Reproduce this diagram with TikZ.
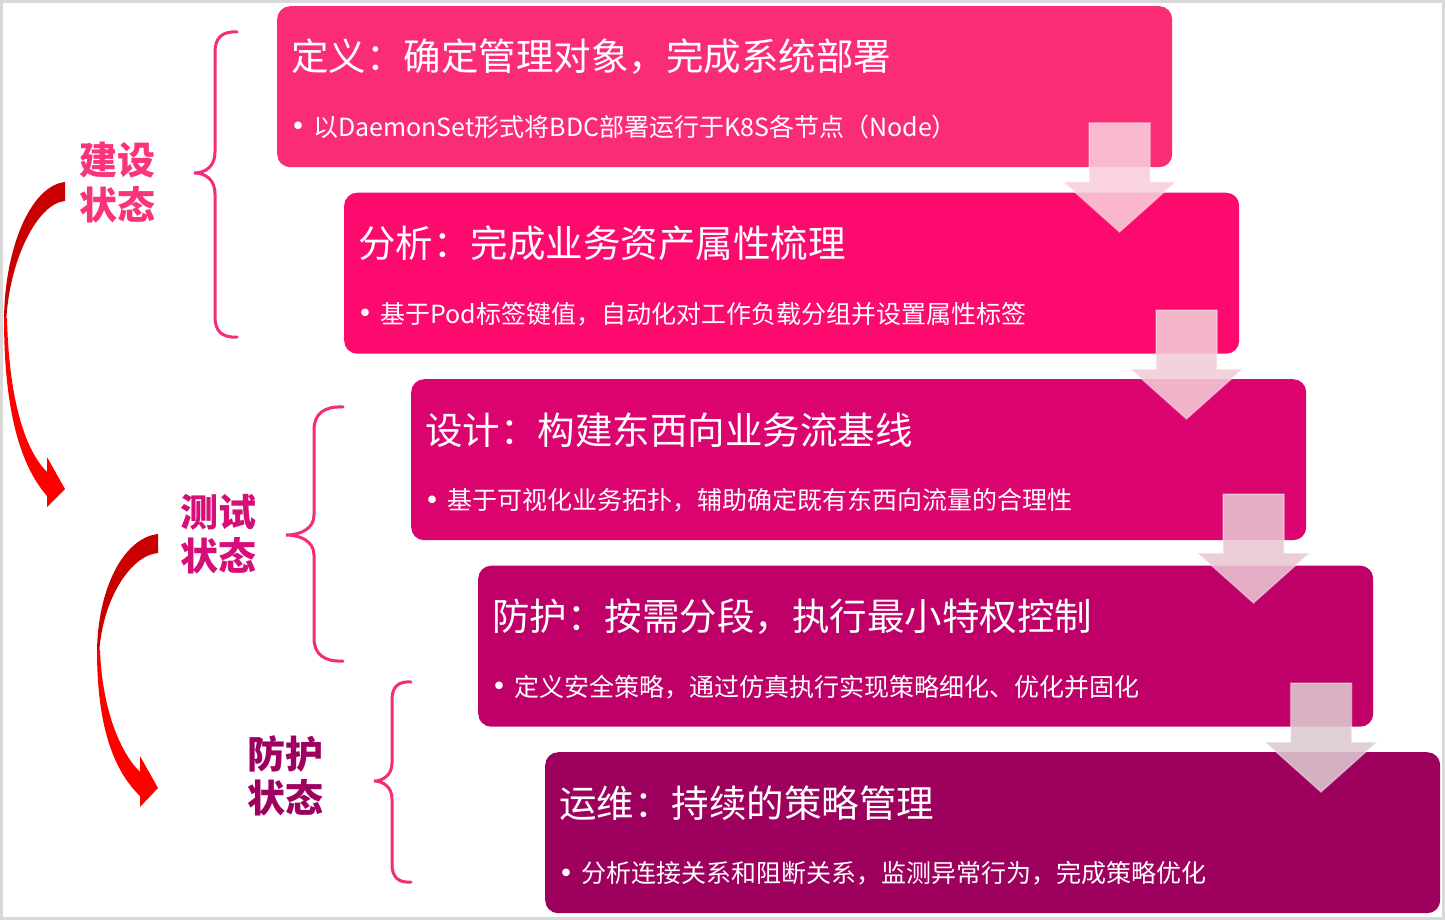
\documentclass[tikz,border=0pt]{standalone}
\usepackage{fontspec}
\setmainfont{Noto Sans CJK SC}
\definecolor{boxA}{RGB}{251,44,118}
\definecolor{boxB}{RGB}{252,10,110}
\definecolor{boxC}{RGB}{220,4,110}
\definecolor{boxD}{RGB}{190,0,104}
\definecolor{boxE}{RGB}{158,0,94}
\definecolor{lblA}{RGB}{250,52,122}
\definecolor{lblB}{RGB}{214,14,120}
\definecolor{lblC}{RGB}{158,0,96}
\definecolor{bracecol}{RGB}{243,45,122}
\definecolor{arrDark}{RGB}{200,0,0}
\definecolor{arrBright}{RGB}{255,0,0}
\definecolor{framecol}{RGB}{217,217,217}
\definecolor{dnA}{RGB}{249,206,218}
\definecolor{dnB}{RGB}{243,204,215}
\definecolor{dnC}{RGB}{233,199,211}
\definecolor{dnD}{RGB}{220,202,208}
\tikzset{
  stagebox/.style={rectangle, rounded corners=13pt, draw=none, minimum width=895pt, minimum height=161pt, anchor=north west, inner sep=0pt},
  titletext/.style={text=white, inner sep=0pt, anchor=base west, font=\fontsize{37.5}{45}\selectfont},
  subtext/.style={text=white, inner sep=0pt, anchor=base west, font=\fontsize{25}{30}\selectfont},
  stagelabel/.style={inner sep=0pt, anchor=base, font=\fontsize{38}{45}\selectfont\bfseries},
  bracestyle/.style={draw=bracecol, line width=3pt, line cap=round},
  dnarrow/.style={fill opacity=0.88, draw=white, draw opacity=0.35, line width=1.5pt, line join=miter},
  downarrow/.pic={\path[dnarrow,pic actions] (-30.5,0) -- (30.5,0) -- (30.5,59) -- (56,59) -- (0,109) -- (-56,59) -- (-30.5,59) -- cycle;}
}
\newcommand{\bul}{\makebox[0pt][c]{\raisebox{-3.5pt}{\fontsize{36}{30}\selectfont •}}\hspace{15pt}}
\begin{document}
\begin{tikzpicture}[x=1pt,y=-1pt]
\useasboundingbox (0,0) rectangle (1445,920);
\fill[white] (0,0) rectangle (1445,920);
\draw[framecol, line width=3pt] (1.5,1.5) rectangle (1443.5,918.5);

% stage boxes
\node[stagebox, fill=boxA] (b1) at (277,6) {};
\node[stagebox, fill=boxB] (b2) at (344,192.5) {};
\node[stagebox, fill=boxC] (b3) at (411,379) {};
\node[stagebox, fill=boxD] (b4) at (478,565.5) {};
\node[stagebox, fill=boxE] (b5) at (545,752) {};

% texts
\node[titletext] (t1) at ([shift={(14,65)}]b1.north west) {定义：确定管理对象，完成系统部署};
\node[subtext] (s1) at ([shift={(21,130.5)}]b1.north west) {\bul 以DaemonSet形式将BDC部署运行于K8S各节点（Node）};
\node[titletext] (t2) at ([shift={(14,65)}]b2.north west) {分析：完成业务资产属性梳理};
\node[subtext] (s2) at ([shift={(21,130.5)}]b2.north west) {\bul 基于Pod标签键值，自动化对工作负载分组并设置属性标签};
\node[titletext] (t3) at ([shift={(14,65)}]b3.north west) {设计：构建东西向业务流基线};
\node[subtext] (s3) at ([shift={(21,130.5)}]b3.north west) {\bul 基于可视化业务拓扑，辅助确定既有东西向流量的合理性};
\node[titletext] (t4) at ([shift={(14,65)}]b4.north west) {防护：按需分段，执行最小特权控制};
\node[subtext] (s4) at ([shift={(21,130.5)}]b4.north west) {\bul 定义安全策略，通过仿真执行实现策略细化、优化并固化};
\node[titletext] (t5) at ([shift={(14,65)}]b5.north west) {运维：持续的策略管理};
\node[subtext] (s5) at ([shift={(21,130.5)}]b5.north west) {\bul 分析连接关系和阻断关系，监测异常行为，完成策略优化};

% down block arrows
\pic[fill=dnA] at (1119.5,123) {downarrow};
\pic[fill=dnB] at (1186.5,310) {downarrow};
\pic[fill=dnC] at (1253.5,494) {downarrow};
\pic[fill=dnD] at (1321,683) {downarrow};

% stage labels
\node[stagelabel, text=lblA] (l1a) at (117.5,174.5) {建设};
\node[stagelabel, text=lblA] (l1b) at (117.5,219) {状态};
\node[stagelabel, text=lblB] (l2a) at (218.5,526) {测试};
\node[stagelabel, text=lblB] (l2b) at (218.5,570) {状态};
\node[stagelabel, text=lblC] (l3a) at (285.5,768) {防护};
\node[stagelabel, text=lblC] (l3b) at (285.5,812) {状态};

% braces
\draw[bracestyle] (237,32) .. controls (222,31) and (215,38) .. (215,52) -- (215,152) .. controls (215,166) and (206,173) .. (194,173) .. controls (206,173) and (215,180) .. (215,194) -- (215,317) .. controls (215,331) and (222,338) .. (237,337);
\draw[bracestyle] (343,407) .. controls (324,406) and (314,414) .. (314,430) -- (314,515) .. controls (314,529) and (300,535) .. (286,535) .. controls (300,535) and (314,541) .. (314,555) -- (314,638) .. controls (314,654) and (324,662) .. (343,661);
\draw[bracestyle] (411,682) .. controls (398,681) and (392,687) .. (392,700) -- (392,763) .. controls (392,775) and (383,781) .. (374,781) .. controls (383,781) and (392,787) .. (392,799) -- (392,864) .. controls (392,877) and (398,883) .. (411,882);

% curved arrows
\fill[arrDark] (65,182) .. controls (30,186) and (4,250) .. (4,322) -- (6,326) .. controls (8,260) and (38,203) .. (65,201) -- cycle;
\fill[arrBright] (4,318) .. controls (4,410) and (20,465) .. (47,496) -- (47,507) -- (65,489) -- (47,457) -- (47,472) .. controls (25,450) and (9,400) .. (7,318) -- cycle;
\fill[arrDark] (158,534) .. controls (123,538) and (97,590) .. (97,654) -- (99,657) .. controls (101,600) and (131,555) .. (158,553) -- cycle;
\fill[arrBright] (97,650) .. controls (97,725) and (113,770) .. (140,796) -- (140,807) -- (158,788) -- (140,756) -- (140,772) .. controls (118,750) and (102,705) .. (100,650) -- cycle;
\end{tikzpicture}
\end{document}
